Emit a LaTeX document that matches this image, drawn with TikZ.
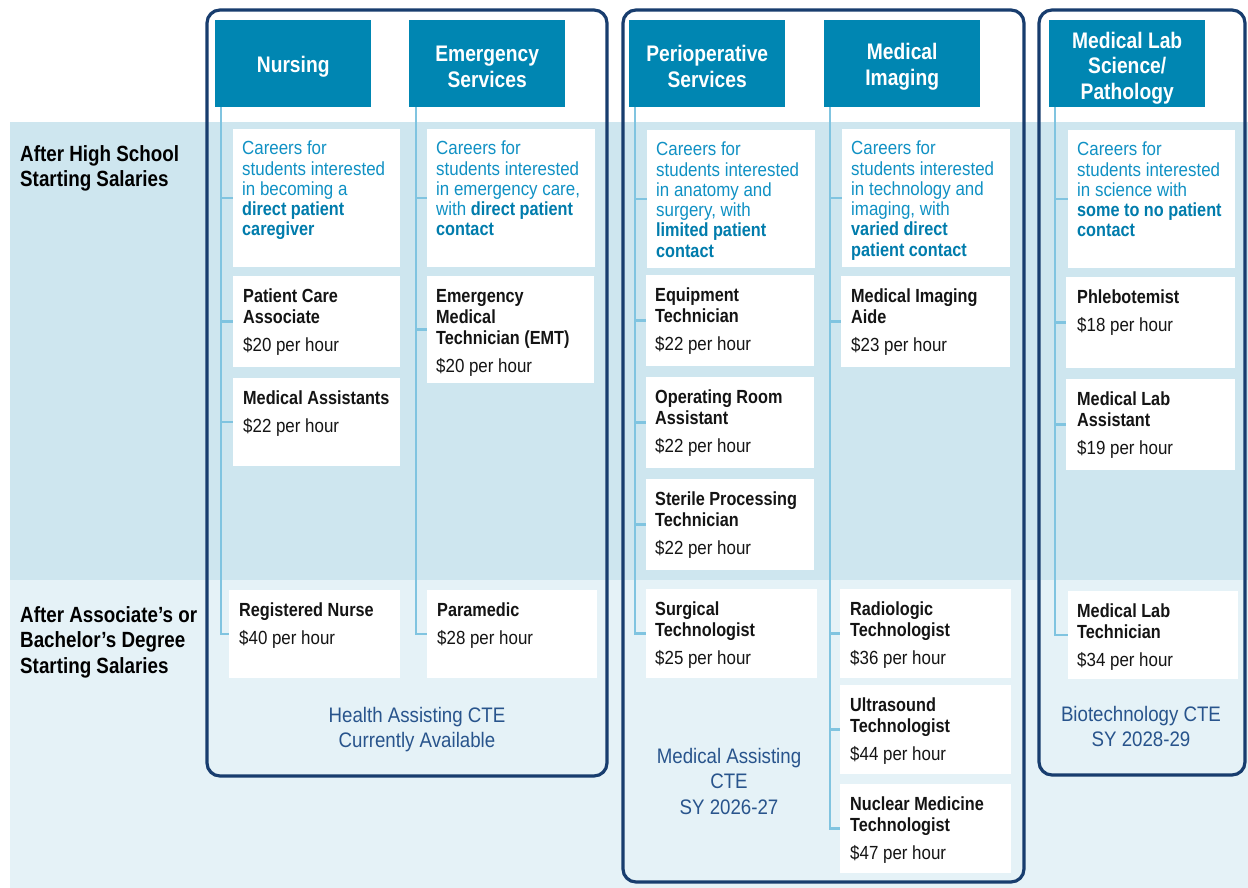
\documentclass[tikz,border=0pt]{standalone}
\usepackage{fontspec}
\setmainfont{Liberation Sans}[FakeStretch=0.89, BoldFeatures={FakeStretch=0.855}]
\usepackage{tikz}

\definecolor{hdrblue}{RGB}{0,134,178}
\definecolor{navy}{RGB}{24,61,110}
\definecolor{spine}{RGB}{128,196,224}
\definecolor{bandtop}{RGB}{206,230,239}
\definecolor{bandlow}{RGB}{229,242,247}
\definecolor{careblue}{RGB}{16,145,196}
\definecolor{careblueb}{RGB}{0,124,172}
\definecolor{foot}{RGB}{40,84,140}

\newcommand{\keyphrase}[1]{{\bfseries\color{careblueb}#1}}

\tikzstyle{header} = [fill=hdrblue, minimum width=156pt, minimum height=87pt, anchor=north west, inner sep=0pt]
\tikzstyle{htext} = [text=white, font=\bfseries\fontsize{22.5}{25.5}\selectfont, align=center, inner sep=0pt]
\tikzstyle{card} = [fill=white, anchor=north west, inner sep=0pt]
\tikzstyle{blurb} = [text=careblue, font=\fontsize{19}{20.25}\selectfont, align=left, anchor=north west, inner sep=0pt]
\tikzstyle{job} = [text=black!92, font=\bfseries\fontsize{19}{21}\selectfont, align=left, anchor=north west, inner sep=0pt]
\tikzstyle{frame} = [draw=navy, line width=3.2pt, rounded corners=13pt]
\tikzstyle{link} = [draw=spine, line width=2.5pt]
\tikzstyle{rowlabel} = [text=black, font=\bfseries\fontsize{22}{25.7}\selectfont, align=left, anchor=north west, inner sep=0pt]
\tikzstyle{cte} = [text=foot, font=\fontsize{21}{25.5}\selectfont, align=center, anchor=north, inner sep=0pt]

\begin{document}
\begin{tikzpicture}[x=1pt,y=-1pt]
	\useasboundingbox (0,0) rectangle (1248,888);
	% salary rows
	\fill[white] (0,0) rectangle (1248,888);
	\fill[bandtop] (10,122) rectangle (1248,580);
	\fill[bandlow] (10,580) rectangle (1248,888);

	% pathway frames
	\draw[frame] (207,10) rectangle (607,776);
	\draw[frame] (623,10) rectangle (1024,882);
	\draw[frame] (1039,10) rectangle (1245,775);

	\node[rowlabel] (hs) at (20,145) {After High School\\Starting Salaries};
	\node[rowlabel] (deg) at (20,606) {After Associate’s or\\Bachelor’s Degree\\Starting Salaries};

	% column headers
	\node[header] (nurs) at (215,20) {};
	\node[header] (emer) at (409,20) {};
	\node[header] (peri) at (629,20) {};
	\node[header] (imag) at (824,20) {};
	\node[header] (lab) at (1049,20) {};
	\node[htext] (nurs-t) at ([yshift=-3.5pt]nurs.center) {Nursing};
	\node[htext] (emer-t) at ([yshift=-3pt]emer.center) {Emergency\\Services};
	\node[htext] (peri-t) at ([yshift=-3pt]peri.center) {Perioperative\\Services};
	\node[htext] (imag-t) at ([yshift=-3pt]imag.center) {Medical\\Imaging};
	\node[htext] (lab-t) at ([yshift=-4.5pt]lab.center) {Medical Lab\\Science/\\Pathology};

	% nursing
	\node[card, minimum width=167pt, minimum height=138pt] (nc) at (233,129) {};
	\node[card, minimum width=167pt, minimum height=91pt] (pca) at (233,276) {};
	\node[card, minimum width=167pt, minimum height=88pt] (ma) at (233,378) {};
	\node[card, minimum width=171pt, minimum height=88pt] (rn) at (229,590) {};
	\node[blurb] (nc-t) at ([xshift=9pt,yshift=-12pt]nc.north west) {Careers for\\students interested\\in becoming a\\\keyphrase{direct patient}\\\keyphrase{caregiver}};
	\node[job] (pca-t) at ([xshift=10pt,yshift=-13pt]pca.north west) {Patient Care\\Associate\\[7pt]\mdseries\$20 per hour};
	\node[job] (ma-t) at ([xshift=10pt,yshift=-13pt]ma.north west) {Medical Assistants\\[7pt]\mdseries\$22 per hour};
	\node[job] (rn-t) at ([xshift=10pt,yshift=-13pt]rn.north west) {Registered Nurse\\[7pt]\mdseries\$40 per hour};

	% emergency services
	\node[card, minimum width=168pt, minimum height=138pt] (ec) at (427,129) {};
	\node[card, minimum width=167pt, minimum height=107pt] (emt) at (427,276) {};
	\node[card, minimum width=170pt, minimum height=88pt] (para) at (427,590) {};
	\node[blurb] (ec-t) at ([xshift=9pt,yshift=-12pt]ec.north west) {Careers for\\students interested\\in emergency care,\\with \keyphrase{direct patient}\\\keyphrase{contact}};
	\node[job] (emt-t) at ([xshift=9pt,yshift=-13pt]emt.north west) {Emergency\\Medical\\Technician (EMT)\\[7pt]\mdseries\$20 per hour};
	\node[job] (para-t) at ([xshift=10pt,yshift=-13pt]para.north west) {Paramedic\\[7pt]\mdseries\$28 per hour};

	% perioperative services
	\node[card, minimum width=168pt, minimum height=138pt] (pc) at (647,130) {};
	\node[card, minimum width=168pt, minimum height=91pt] (eqt) at (646,275) {};
	\node[card, minimum width=168pt, minimum height=91pt] (ora) at (646,377) {};
	\node[card, minimum width=168pt, minimum height=91pt] (spt) at (646,479) {};
	\node[card, minimum width=171pt, minimum height=89pt] (st) at (646,589) {};
	\node[blurb] (pc-t) at ([xshift=9pt,yshift=-12pt]pc.north west) {Careers for\\students interested\\in anatomy and\\surgery, with\\\keyphrase{limited patient}\\\keyphrase{contact}};
	\node[job] (eqt-t) at ([xshift=9pt,yshift=-13pt]eqt.north west) {Equipment\\Technician\\[7pt]\mdseries\$22 per hour};
	\node[job] (ora-t) at ([xshift=9pt,yshift=-13pt]ora.north west) {Operating Room\\Assistant\\[7pt]\mdseries\$22 per hour};
	\node[job] (spt-t) at ([xshift=9pt,yshift=-13pt]spt.north west) {Sterile Processing\\Technician\\[7pt]\mdseries\$22 per hour};
	\node[job] (st-t) at ([xshift=9pt,yshift=-13pt]st.north west) {Surgical\\Technologist\\[7pt]\mdseries\$25 per hour};

	% medical imaging
	\node[card, minimum width=168pt, minimum height=138pt] (ic) at (842,129) {};
	\node[card, minimum width=169pt, minimum height=91pt] (mia) at (841,276) {};
	\node[card, minimum width=171pt, minimum height=89pt] (rad) at (840,589) {};
	\node[card, minimum width=171pt, minimum height=89pt] (us) at (840,685) {};
	\node[card, minimum width=171pt, minimum height=89pt] (nm) at (840,784) {};
	\node[blurb] (ic-t) at ([xshift=9pt,yshift=-12pt]ic.north west) {Careers for\\students interested\\in technology and\\imaging, with\\\keyphrase{varied direct}\\\keyphrase{patient contact}};
	\node[job] (mia-t) at ([xshift=10pt,yshift=-13pt]mia.north west) {Medical Imaging\\Aide\\[7pt]\mdseries\$23 per hour};
	\node[job] (rad-t) at ([xshift=10pt,yshift=-13pt]rad.north west) {Radiologic\\Technologist\\[7pt]\mdseries\$36 per hour};
	\node[job] (us-t) at ([xshift=10pt,yshift=-13pt]us.north west) {Ultrasound\\Technologist\\[7pt]\mdseries\$44 per hour};
	\node[job] (nm-t) at ([xshift=10pt,yshift=-13pt]nm.north west) {Nuclear Medicine\\Technologist\\[7pt]\mdseries\$47 per hour};

	% medical lab science
	\node[card, minimum width=167pt, minimum height=138pt] (lc) at (1068,130) {};
	\node[card, minimum width=169pt, minimum height=91pt] (phl) at (1066,277) {};
	\node[card, minimum width=169pt, minimum height=91pt] (mla) at (1066,379) {};
	\node[card, minimum width=170pt, minimum height=88pt] (mlt) at (1068,591) {};
	\node[blurb] (lc-t) at ([xshift=9pt,yshift=-12pt]lc.north west) {Careers for\\students interested\\in science with\\\keyphrase{some to no patient}\\\keyphrase{contact}};
	\node[job] (phl-t) at ([xshift=11pt,yshift=-13pt]phl.north west) {Phlebotemist\\[7pt]\mdseries\$18 per hour};
	\node[job] (mla-t) at ([xshift=11pt,yshift=-13pt]mla.north west) {Medical Lab\\Assistant\\[7pt]\mdseries\$19 per hour};
	\node[job] (mlt-t) at ([xshift=9pt,yshift=-13pt]mlt.north west) {Medical Lab\\Technician\\[7pt]\mdseries\$34 per hour};

	% spines from each header down to its cards
	\coordinate (nurs-s) at ([xshift=6pt]nurs.south west);
	\coordinate (emer-s) at ([xshift=7pt]emer.south west);
	\coordinate (peri-s) at ([xshift=6pt]peri.south west);
	\coordinate (imag-s) at ([xshift=6pt]imag.south west);
	\coordinate (lab-s) at ([xshift=6pt]lab.south west);
	\draw[link] (nurs-s) |- (rn.west);
	\draw[link] (emer-s) |- (para.west);
	\draw[link] (peri-s) |- (st.west);
	\draw[link] (imag-s) |- (nm.west);
	\draw[link] (lab-s) |- (mlt.west);
	\foreach \c in {nc,pca,ma} \draw[link] (nurs-s |- \c.west) -- (\c.west);
	\foreach \c in {ec,emt} \draw[link] (emer-s |- \c.west) -- (\c.west);
	\foreach \c in {pc,eqt,ora,spt} \draw[link] (peri-s |- \c.west) -- (\c.west);
	\foreach \c in {ic,mia,rad,us} \draw[link] (imag-s |- \c.west) -- (\c.west);
	\foreach \c in {lc,phl,mla} \draw[link] (lab-s |- \c.west) -- (\c.west);

	% programme availability
	\node[cte] (ha) at (417,707) {Health Assisting CTE\\Currently Available};
	\node[cte] (mac) at (729,748) {Medical Assisting\\CTE\\SY 2026-27};
	\node[cte] (bio) at (1141,706) {Biotechnology CTE\\SY 2028-29};
\end{tikzpicture}
\end{document}
